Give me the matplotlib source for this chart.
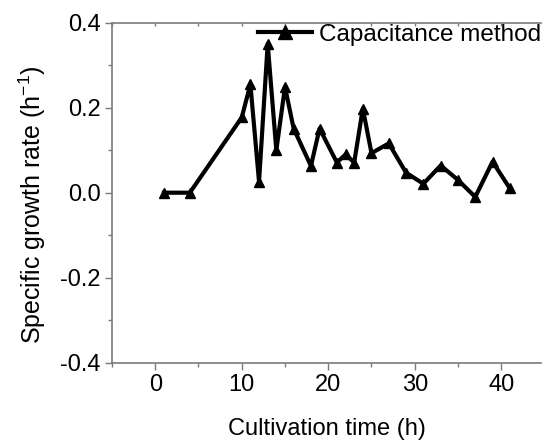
import matplotlib
matplotlib.use("Agg")
import matplotlib.pyplot as plt
from matplotlib.ticker import MultipleLocator

plt.rcParams['font.family'] = ['Liberation Sans', 'DejaVu Sans']
plt.rcParams['mathtext.fontset'] = 'custom'
plt.rcParams['mathtext.rm'] = 'Liberation Sans'
plt.rcParams['mathtext.it'] = 'Liberation Sans'
plt.rcParams['mathtext.default'] = 'regular'

time_h = [1, 4, 10, 11, 12, 13, 14, 15, 16, 18, 19, 21, 22, 23, 24, 25, 27, 29, 31, 33, 35, 37, 39, 41]
growth_rate = [0.0, 0.0, 0.177, 0.255, 0.026, 0.35, 0.10, 0.249, 0.151, 0.063, 0.151, 0.071,
               0.090, 0.071, 0.198, 0.093, 0.116, 0.047, 0.021, 0.064, 0.030, -0.010, 0.073, 0.010]

fig = plt.figure(figsize=(5.43, 4.41), dpi=100)
ax = fig.add_axes([112 / 543, 1 - 362.7 / 441, (541 - 112) / 543, (362.7 - 22.7) / 441])

ax.plot(time_h, growth_rate, color='black', lw=3, marker='^', ms=7.5,
        label='Capacitance method')

ax.set_xlim(-5, 44.6)
ax.set_ylim(-0.4, 0.4)
ax.xaxis.set_major_locator(MultipleLocator(10))
ax.xaxis.set_minor_locator(MultipleLocator(5))
ax.yaxis.set_minor_locator(MultipleLocator(0.1))
ax.set_yticks([-0.4, -0.2, 0.0, 0.2, 0.4])
ax.set_yticklabels(['-0.4', '-0.2', '0.0', '0.2', '0.4'])

spine_color = '#7a7a7a'
for side in ['left', 'bottom', 'top']:
    ax.spines[side].set_color(spine_color)
    ax.spines[side].set_linewidth(1.2)
ax.spines['right'].set_visible(False)

ax.tick_params(which='both', direction='out', color=spine_color, width=1.0,
               labelsize=17, top=False, right=False, pad=3)
ax.tick_params(which='major', length=5)
ax.tick_params(which='minor', length=3)

# small inward ticks along the top edge
top = ax.secondary_xaxis('top')
top.xaxis.set_major_locator(MultipleLocator(10))
top.xaxis.set_minor_locator(MultipleLocator(5))
top.tick_params(which='both', direction='in', color=spine_color, width=1.0,
                length=2.5, labeltop=False)
top.spines['top'].set_visible(False)

ax.set_xlabel('Cultivation time (h)', fontsize=17, labelpad=16)
ax.set_ylabel('Specific growth rate (h$^{-1}$)', fontsize=18)
ax.yaxis.set_label_coords(-0.15, 0.464)

ax.legend(loc='upper right', frameon=False, fontsize=17.5, handlelength=2.2,
          handletextpad=0.3, borderaxespad=0.0, markerscale=1.4,
          bbox_to_anchor=(1.023, 1.025))

fig.savefig('out.png', dpi=100)
